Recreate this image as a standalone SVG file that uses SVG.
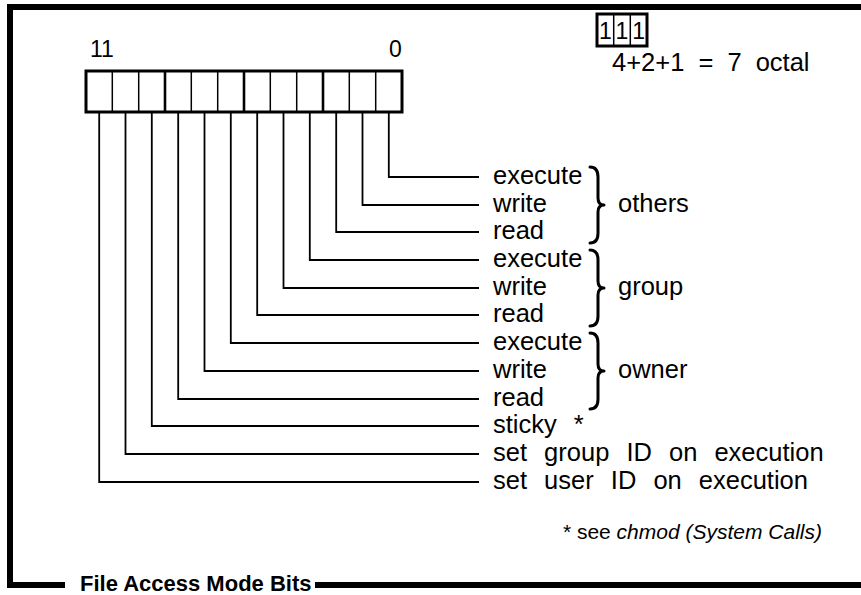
<svg xmlns="http://www.w3.org/2000/svg" width="861" height="595" viewBox="0 0 861 595">
  <style>
    .lbl { font-family: "Liberation Sans", Arial, sans-serif; font-size: 25.5px; word-spacing: 10px; fill: #000; }
    .note { font-family: "Liberation Sans", Arial, sans-serif; font-size: 21px; fill: #000; }
    .bit { font-family: "Liberation Sans", Arial, sans-serif; font-size: 23px; fill: #000; }
    .title { font-family: "Liberation Sans", Arial, sans-serif; font-size: 22px; font-weight: bold; fill: #000; }
    .frame { stroke: #000; stroke-width: 6; fill: none; stroke-linecap: square; }
    .lead { stroke: #000; stroke-width: 1.8; fill: none; }
    .cell { stroke: #000; stroke-width: 1.5; }
    .grp { stroke: #000; stroke-width: 2.6; }
    .box { stroke: #000; stroke-width: 3; fill: #fff; }
    .brace { stroke: #000; stroke-width: 3; fill: none; stroke-linecap: round; stroke-linejoin: round; }
  </style>
  <defs>
    <!-- right curly brace, centred on y=0, 78 px tall -->
    <path id="brace" class="brace" d="M 590 -38 Q 598 -38 598 -28 L 598 -7 Q 598 0 604 0 Q 598 0 598 7 L 598 28 Q 598 38 590 38"/>
  </defs>

  <rect width="861" height="595" fill="#fff"/>

  <!-- outer frame with legend gap -->
  <g id="frame">
    <path class="frame" d="M 861 7 L 10 7 L 10 585 L 62 585"/>
    <path class="frame" d="M 318 585 L 861 585" stroke-linecap="butt"/>
    <text class="title" x="80" y="591">File Access Mode Bits</text>
  </g>

  <!-- 12-bit mode register -->
  <g id="register">
    <text class="bit" x="90" y="57">11</text>
    <text class="bit" x="389" y="57">0</text>
    <rect class="box" x="86" y="71" width="316" height="41"/>
    <g class="cell">
      <line x1="112.3" y1="71" x2="112.3" y2="112"/>
      <line x1="138.7" y1="71" x2="138.7" y2="112"/>
      <line x1="191.3" y1="71" x2="191.3" y2="112"/>
      <line x1="217.7" y1="71" x2="217.7" y2="112"/>
      <line x1="270.3" y1="71" x2="270.3" y2="112"/>
      <line x1="296.7" y1="71" x2="296.7" y2="112"/>
      <line x1="349.3" y1="71" x2="349.3" y2="112"/>
      <line x1="375.7" y1="71" x2="375.7" y2="112"/>
    </g>
    <g class="grp">
      <line x1="165" y1="71" x2="165" y2="112"/>
      <line x1="244" y1="71" x2="244" y2="112"/>
      <line x1="323" y1="71" x2="323" y2="112"/>
    </g>
  </g>

  <!-- octal example -->
  <g id="octal">
    <rect class="box" x="597" y="14" width="50" height="32"/>
    <line class="cell" x1="613.7" y1="14" x2="613.7" y2="46"/>
    <line class="cell" x1="630.3" y1="14" x2="630.3" y2="46"/>
    <text class="bit" x="605.3" y="38.5" text-anchor="middle">1</text>
    <text class="bit" x="622" y="38.5" text-anchor="middle">1</text>
    <text class="bit" x="638.7" y="38.5" text-anchor="middle">1</text>
    <text class="lbl" x="612" y="71" style="word-spacing:7px">4+2+1 = 7 octal</text>
  </g>

  <!-- leader lines from each bit to its label -->
  <g id="connectors" class="lead">
    <polyline points="388.8,112 388.8,177 479,177"/>
    <polyline points="362.5,112 362.5,205 479,205"/>
    <polyline points="336.2,112 336.2,232 479,232"/>
    <polyline points="309.8,112 309.8,260 479,260"/>
    <polyline points="283.5,112 283.5,288 479,288"/>
    <polyline points="257.2,112 257.2,315 479,315"/>
    <polyline points="230.8,112 230.8,343 479,343"/>
    <polyline points="204.5,112 204.5,371 479,371"/>
    <polyline points="178.2,112 178.2,399 479,399"/>
    <polyline points="151.8,112 151.8,426 479,426"/>
    <polyline points="125.5,112 125.5,454 479,454"/>
    <polyline points="99.2,112 99.2,482 479,482"/>
  </g>

  <!-- bit labels -->
  <g id="others">
    <text class="lbl" x="493" y="184">execute</text>
    <text class="lbl" x="493" y="212">write</text>
    <text class="lbl" x="493" y="239">read</text>
    <use href="#brace" y="205"/>
    <text class="lbl" x="618" y="212">others</text>
  </g>
  <g id="group">
    <text class="lbl" x="493" y="267">execute</text>
    <text class="lbl" x="493" y="295">write</text>
    <text class="lbl" x="493" y="322">read</text>
    <use href="#brace" y="288"/>
    <text class="lbl" x="618" y="295">group</text>
  </g>
  <g id="owner">
    <text class="lbl" x="493" y="350">execute</text>
    <text class="lbl" x="493" y="378">write</text>
    <text class="lbl" x="493" y="406">read</text>
    <use href="#brace" y="371"/>
    <text class="lbl" x="618" y="378">owner</text>
  </g>
  <g id="special">
    <text class="lbl" x="493" y="433">sticky *</text>
    <text class="lbl" x="493" y="461">set group ID on execution</text>
    <text class="lbl" x="493" y="489">set user ID on execution</text>
  </g>

  <g id="footnote">
    <text class="note" x="822" y="539" text-anchor="end">* see <tspan font-style="italic">chmod (System Calls)</tspan></text>
  </g>
</svg>
